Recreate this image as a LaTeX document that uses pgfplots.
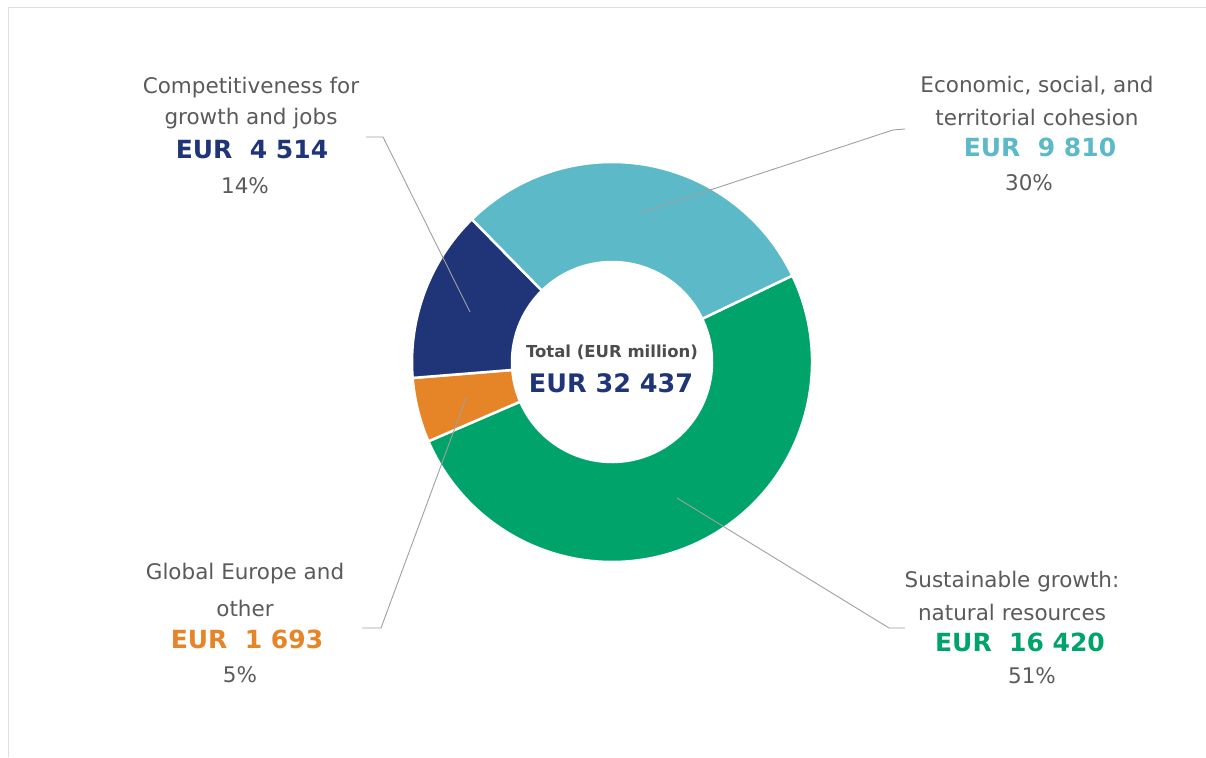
\documentclass[border=0pt]{standalone}
\usepackage{pgfplots}
\pgfplotsset{compat=1.18}
\usepackage{pgfplotstable}
\usepackage{fontspec}
\setmainfont{DejaVu Sans}

\definecolor{cgreen}{HTML}{00A369}
\definecolor{corange}{HTML}{E68528}
\definecolor{cnavy}{HTML}{1F3578}
\definecolor{ccyan}{HTML}{5BB9C8}
\definecolor{txt}{HTML}{5A5A5A}
\definecolor{leadcol}{HTML}{A0A0A0}

\tikzset{
  lbl/.style={font=\fontsize{21.5}{25}\selectfont, text=txt, anchor=center},
  eur/.style={font=\fontsize{25}{30}\selectfont\bfseries, anchor=center},
  leader/.style={draw=leadcol, line width=0.9pt},
}

% slices, clockwise from the cyan/green border
\pgfplotstableread{
name value
green 16420
orange 1693
navy 4514
cyan 9810
}\slices

\newcommand\drawslice[2]{%
  \pgfplotstablegetelem{#1}{value}\of\slices
  \edef\sweep{\fpeval{round(\pgfplotsretval/\total*360,4)}}%
  \edef\endang{\fpeval{round(\curang-\sweep,4)}}%
  \fill[#2, draw=white, line width=2.5pt]
    ([shift={(\curang:200pt)}]c) arc[start angle=\curang, end angle=\endang, radius=200pt]
    -- ([shift={(\endang:100pt)}]c) arc[start angle=\endang, end angle=\curang, radius=100pt]
    -- cycle;
  \xdef\curang{\endang}}

\begin{document}
\begin{tikzpicture}
\begin{axis}[
    width=1206pt, height=757pt, scale only axis,
    xmin=0, xmax=1206, ymin=0, ymax=757,
    hide axis, clip=false,
]
% frame
\draw[draw=black!13, line width=1pt] (axis cs:8,0) -- (axis cs:8,749) -- (axis cs:1206,749);

\pgfplotsextra{
  \coordinate (c) at (axis cs:612,395);
  \pgfplotstablegetelem{0}{value}\of\slices \edef\va{\pgfplotsretval}
  \pgfplotstablegetelem{1}{value}\of\slices \edef\vb{\pgfplotsretval}
  \pgfplotstablegetelem{2}{value}\of\slices \edef\vc{\pgfplotsretval}
  \pgfplotstablegetelem{3}{value}\of\slices \edef\vd{\pgfplotsretval}
  \edef\total{\fpeval{\va+\vb+\vc+\vd}}
  \gdef\curang{25.6}
  \drawslice{0}{cgreen}
  \drawslice{1}{corange}
  \drawslice{2}{cnavy}
  \drawslice{3}{ccyan}
  % leader lines
  \draw[leader] (axis cs:470,445) -- (axis cs:383,620) -- (axis cs:366,620);
  \draw[leader] (axis cs:640,544) -- (axis cs:893,627) -- (axis cs:905,628);
  \draw[leader] (axis cs:466,359) -- (axis cs:381,129) -- (axis cs:362,129);
  \draw[leader] (axis cs:677,259) -- (axis cs:889,129) -- (axis cs:905,129);
}

% centre
\node[font=\fontsize{16.5}{19}\selectfont\bfseries, text=black!70] at (axis cs:612,405) {Total (EUR million)};
\node[font=\fontsize{25.5}{30}\selectfont\bfseries, text=cnavy] at (axis cs:611,374) {EUR 32 437};

% competitiveness
\node[lbl] at (axis cs:251,669) {Competitiveness for};
\node[lbl] at (axis cs:251,638) {growth and jobs};
\node[eur, text=cnavy] at (axis cs:252,607) {EUR\ \ 4 514};
\node[lbl] at (axis cs:245,571) {14\%};

% cohesion
\node[lbl] at (axis cs:1037,671) {Economic, social, and};
\node[lbl] at (axis cs:1037,640) {territorial cohesion};
\node[eur, text=ccyan] at (axis cs:1040,610) {EUR\ \ 9 810};
\node[lbl] at (axis cs:1029,574) {30\%};

% global europe
\node[lbl] at (axis cs:245,183) {Global Europe and};
\node[lbl] at (axis cs:245,149) {other};
\node[eur, text=corange] at (axis cs:247,118) {EUR\ \ 1 693};
\node[lbl] at (axis cs:240,82) {5\%};

% sustainable growth
\node[lbl] at (axis cs:1012,175) {Sustainable growth:};
\node[lbl] at (axis cs:1012,145) {natural resources};
\node[eur, text=cgreen] at (axis cs:1020,115) {EUR\ \ 16 420};
\node[lbl] at (axis cs:1032,81) {51\%};
\end{axis}
\pgfresetboundingbox
\useasboundingbox (0,0) rectangle (1206pt,757pt);
\end{tikzpicture}
\end{document}
